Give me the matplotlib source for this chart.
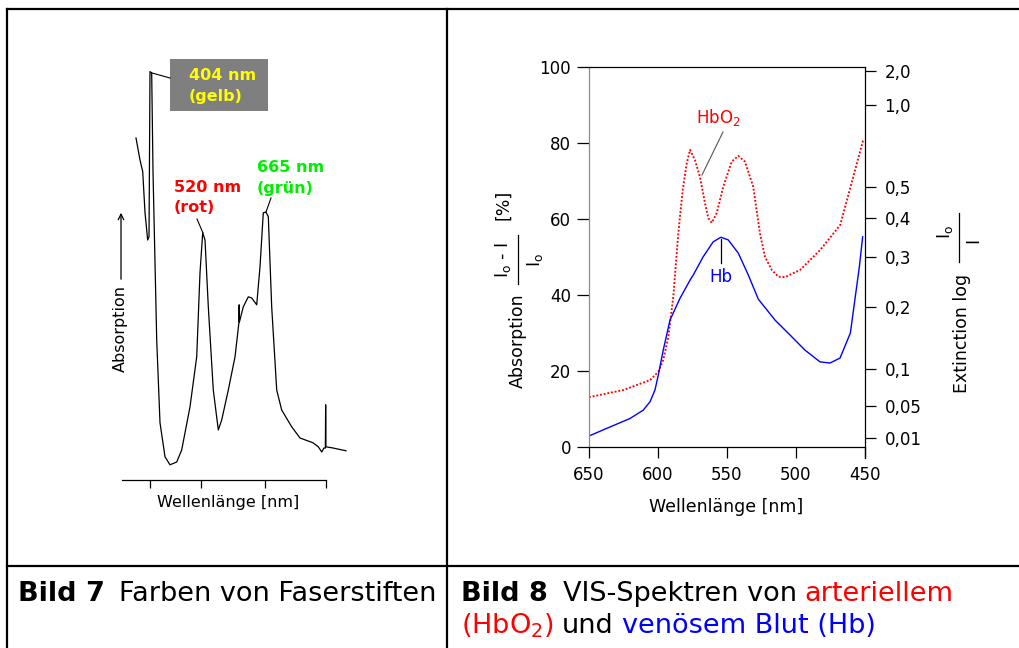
import numpy as np
import matplotlib
matplotlib.use('Agg')
import matplotlib.pyplot as plt
from matplotlib.lines import Line2D
from matplotlib.patches import Rectangle

W, H = 1019, 648

# ---------------- Bild 7 data (Faserstifte) ----------------
fs_nm = [372.5, 381.5, 387.6, 392.8, 398.8, 401.8, 404.0, 407.8, 410.8, 419.1,
         426.5, 437.8, 449.0, 464.1, 475.3, 494.0, 509.1, 516.5, 522.6, 527.8,
         535.2, 546.4, 557.7, 565.3, 580.2, 595.3, 604.0, 604.6, 605.2, 613.9,
         625.2, 632.8, 644.1, 651.5, 658.9, 665.0, 670.2, 677.8, 689.1, 700.3,
         722.8, 741.5, 770.8, 782.7, 790.4, 795.5, 798.6, 799.2, 799.8, 815.8, 845.0]
fs_abs = [85.5, 80.0, 77.1, 66.8, 60.0, 60.8, 102.1, 101.8, 76.8, 35.0,
          14.3, 5.8, 3.8, 4.5, 7.5, 18.3, 30.8, 51.8, 61.8, 60.0,
          43.3, 22.5, 12.5, 15.0, 22.5, 30.8, 39.3, 43.8, 39.5, 43.3,
          45.8, 45.5, 43.8, 53.3, 66.8, 67.0, 65.8, 43.3, 22.5, 17.5,
          13.3, 10.5, 9.3, 8.3, 7.0, 8.0, 8.0, 18.8, 8.3, 8.0, 7.3]
fs_ticks = [404, 519, 663, 800]

# ---------------- Bild 8 data (Blut) ----------------
hbo2_nm = [650, 625.1, 605.8, 599.8, 596.2, 592.5, 588.9, 585.3, 582.1, 579.2,
           576.8, 573.2, 569.6, 565.9, 563.5, 561.1, 557.5, 552.7, 546.6, 541.8,
           537.0, 531.0, 526.1, 522.5, 517.6, 512.8, 508.0, 497.0, 482.6, 468.0,
           460.6, 451.3]
hbo2_abs = [13.1, 15.0, 17.6, 19.8, 22.9, 29.0, 39.6, 56.2, 67.6, 74.6,
            78.2, 75.5, 71.1, 64.1, 60.2, 59.0, 61.5, 68.5, 75.1, 76.6,
            75.1, 68.5, 56.2, 50.1, 46.6, 44.8, 44.7, 46.6, 51.8, 58.4,
            68.3, 80.8]
hb_nm = [650, 637.2, 620.3, 610.7, 605.8, 602.2, 599.8, 596.2, 591.3, 584.1,
         576.8, 574.4, 567.2, 560.0, 554.4, 549.1, 541.8, 534.6, 527.3, 515.2,
         504.4, 493.5, 482.6, 475.4, 468.1, 460.6, 454.1, 451.7]
hb_abs = [2.9, 4.9, 7.5, 9.7, 11.9, 15.0, 18.9, 25.5, 33.4, 39.1,
          43.9, 45.3, 50.1, 54.0, 55.2, 54.5, 51.0, 45.3, 38.9, 33.4,
          29.5, 25.5, 22.4, 22.1, 23.4, 30.0, 47.4, 55.3]
x_ticks = [650, 600, 550, 500, 450]
y_ticks = [0, 20, 40, 60, 80, 100]
ext_vals = [2.0, 1.0, 0.5, 0.4, 0.3, 0.2, 0.1, 0.05, 0.01]
ext_labels = ['2,0', '1,0', '0,5', '0,4', '0,3', '0,2', '0,1', '0,05', '0,01']

fig = plt.figure(figsize=(W / 100, H / 100), dpi=100)
fig.patch.set_facecolor('white')


def fx(x):
    return x / W


def fy(y):
    return 1 - y / H


def fline(x1, y1, x2, y2, **kw):
    fig.add_artist(Line2D([fx(x1), fx(x2)], [fy(y1), fy(y2)],
                          transform=fig.transFigure, **kw))


def ftext(x, y, s, **kw):
    return fig.text(fx(x), fy(y), s, **kw)


# ---------------- table lines ----------------
tl = dict(color='black', lw=1.6, solid_capstyle='projecting')
fline(7, 9, 1019, 9, **tl)
fline(7, 9, 7, 648, **tl)
fline(447, 9, 447, 648, **tl)
fline(7, 566, 1019, 566, **tl)

# ---------------- Bild 7 ----------------
ax1 = fig.add_axes([fx(100), fy(480), 260 / W, 440 / H])
ax1.set_xlim(404 - 50 * 2.25, 404 + 210 * 2.25)
ax1.set_ylim(0, 110)
ax1.plot(fs_nm, fs_abs, color='black', lw=0.9)
for s in ['top', 'right', 'left']:
    ax1.spines[s].set_visible(False)
ax1.spines['bottom'].set_bounds(341, 800)
ax1.spines['bottom'].set_linewidth(0.9)
ax1.set_yticks([])
ax1.set_xticks(fs_ticks)
ax1.set_xticklabels([])
ax1.tick_params(axis='x', direction='out', length=5.5, width=0.9)
ax1.patch.set_alpha(0)

ftext(228, 503, 'Wellenlänge [nm]', fontsize=11.5, ha='center', va='center')
ftext(120, 328, 'Absorption', fontsize=11.5, rotation=90, ha='center', va='center')
ax1.annotate('', xy=(121, H - 210), xytext=(121, H - 282), xycoords='figure pixels',
             textcoords='figure pixels',
             arrowprops=dict(arrowstyle='->', lw=0.9, color='black'))

fig.add_artist(Rectangle((fx(170), fy(111)), 98 / W, 52 / H, transform=fig.transFigure,
                         facecolor='#7f7f7f', edgecolor='none'))
ftext(189, 75, '404 nm', fontsize=11.5, fontweight='bold', color='#ffff00', va='center')
ftext(189, 96, '(gelb)', fontsize=11.5, fontweight='bold', color='#ffff00', va='center')
fline(152, 73, 170, 78, color='black', lw=0.8)

ftext(174, 187, '520 nm', fontsize=11.5, fontweight='bold', color='#ff0000', va='center')
ftext(174, 207, '(rot)', fontsize=11.5, fontweight='bold', color='#ff0000', va='center')
fline(197, 219, 203, 233, color='black', lw=0.8)

ftext(257, 168, '665 nm', fontsize=11.5, fontweight='bold', color='#00ee00', va='center')
ftext(257, 188, '(grün)', fontsize=11.5, fontweight='bold', color='#00ee00', va='center')
fline(271, 198, 266, 212, color='black', lw=0.8)

# ---------------- Bild 8 ----------------
ax2 = fig.add_axes([fx(589), fy(447), 276 / W, 380 / H])
ax2.set_xlim(650, 450)
ax2.set_ylim(0, 100)
ax2.plot(hbo2_nm, hbo2_abs, color='#ff0000', lw=1.35, ls=(0, (1, 1)))
ax2.plot(hb_nm, hb_abs, color='#0000ff', lw=1.0)
ax2.set_xticks(x_ticks)
ax2.set_xticklabels([str(v) for v in x_ticks])
ax2.set_yticks(y_ticks)
ax2.set_yticklabels([str(v) for v in y_ticks])
ax2.tick_params(direction='out', length=9, width=0.9, labelsize=12, pad=4)
ax2.tick_params(axis='x', length=8, pad=6)
ax2.spines['left'].set_color('#8c8c8c')
ax2.spines['right'].set_visible(False)
for s in ['left', 'top', 'bottom']:
    ax2.spines[s].set_linewidth(0.9)

ax3 = ax2.twinx()
ax3.set_ylim(0, 100)
ax3.set_yticks([100 * (1 - 10 ** (-e)) for e in ext_vals])
ax3.set_yticklabels(ext_labels)
ax3.tick_params(direction='out', length=8, width=0.9, labelsize=12, pad=6)
for s in ['left', 'top', 'bottom']:
    ax3.spines[s].set_visible(False)
ax3.spines['right'].set_bounds(-2.9, 100)
ax3.spines['right'].set_linewidth(0.9)

ftext(726, 507, 'Wellenlänge [nm]', fontsize=12.5, ha='center', va='center')

# left y label
ftext(518, 341, 'Absorption', fontsize=12.5, rotation=90, ha='center', va='center')
ftext(503, 260, r'I$_\mathregular{o}$ - I', fontsize=12.5, rotation=90, ha='center', va='center')
fline(518, 235, 518, 284, color='black', lw=0.9)
ftext(535, 260, r'I$_\mathregular{o}$', fontsize=12.5, rotation=90, ha='center', va='center')
ftext(503, 205, '[%]', fontsize=12.5, rotation=90, ha='center', va='center')

# right y label
ftext(962, 333, 'Extinction log', fontsize=12.5, rotation=90, ha='center', va='center')
ftext(945, 232, r'I$_\mathregular{o}$', fontsize=12.5, rotation=90, ha='center', va='center')
fline(959, 213, 959, 262, color='black', lw=0.9)
ftext(973, 240, 'I', fontsize=12.5, rotation=90, ha='center', va='center')

# curve labels
ftext(718, 118, r'HbO$_2$', fontsize=12, color='#ff0000', ha='center', va='center')
fline(723, 132, 702, 175, color='#555555', lw=0.8)
ftext(721, 277, 'Hb', fontsize=12, color='#0000ff', ha='center', va='center')
fline(721, 239, 721, 263, color='black', lw=0.9)

# ---------------- captions ----------------
renderer = fig.canvas.get_renderer()


def seq(x, y, parts, fs=19.5):
    for s, c, w, gap in parts:
        t = ftext(x, y, s, fontsize=fs, color=c, fontweight=w, ha='left', va='baseline')
        x += t.get_window_extent(renderer).width + gap
    return x


seq(18, 601, [('Bild 7', 'black', 'bold', 14), ('Farben von Faserstiften', 'black', 'normal', 0)])
seq(461, 601, [('Bild 8', 'black', 'bold', 15), ('VIS-Spektren von', 'black', 'normal', 8),
               ('arteriellem', '#ff0000', 'normal', 0)])
seq(461, 633, [(r'(HbO$_2$)', '#ff0000', 'normal', 8), ('und', 'black', 'normal', 8),
               ('venösem Blut (Hb)', '#0000ff', 'normal', 0)])

fig.savefig('out.png', dpi=100)
